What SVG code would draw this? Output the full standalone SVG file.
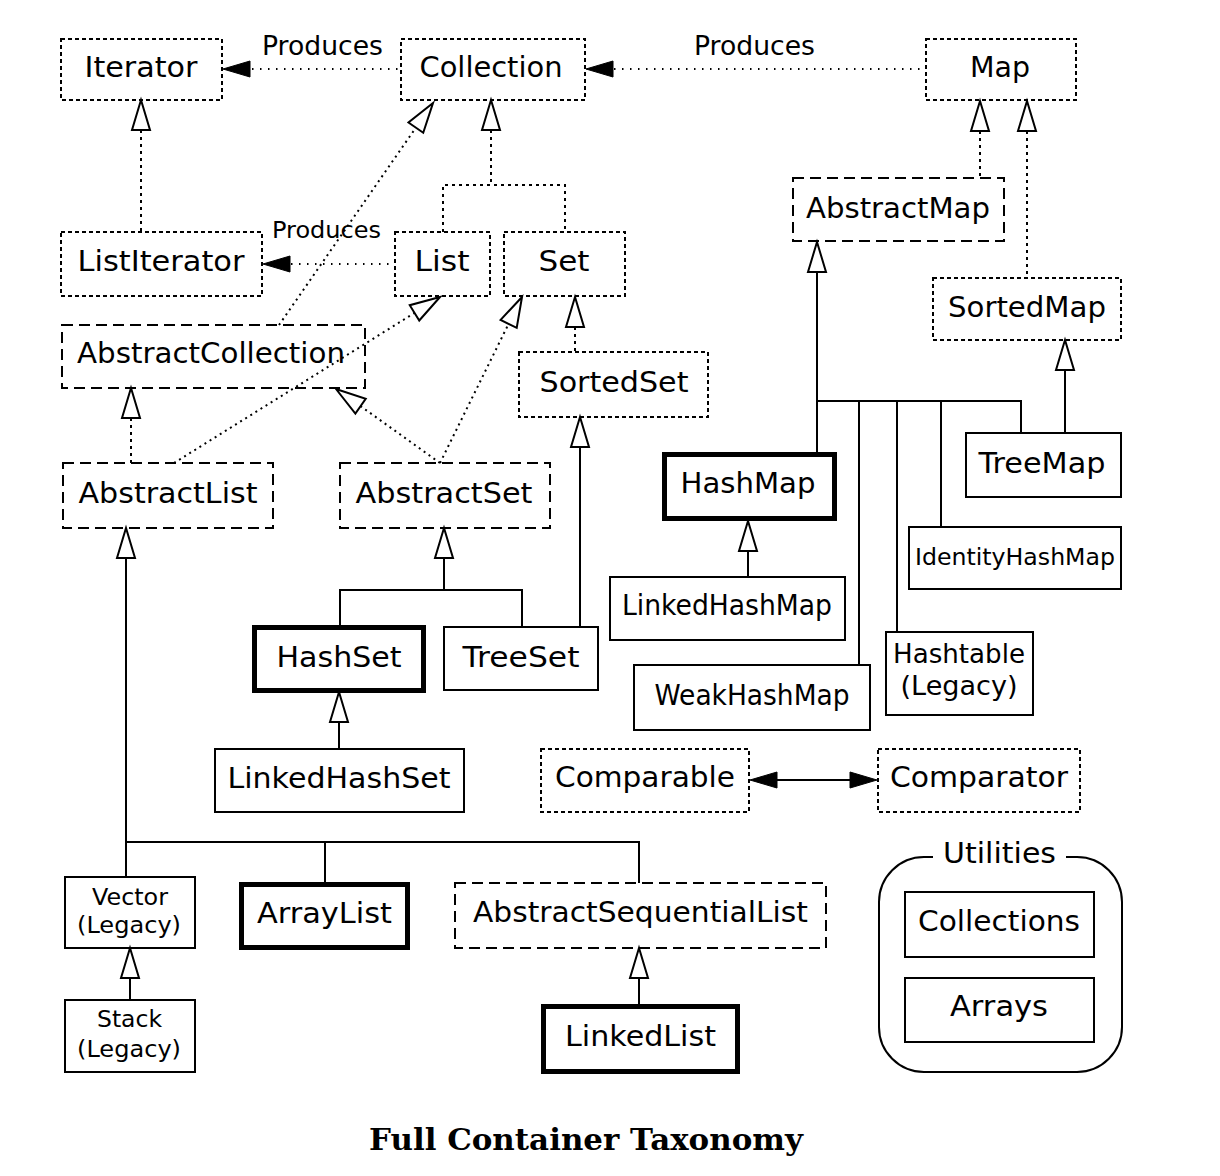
<svg xmlns="http://www.w3.org/2000/svg" xmlns:xlink="http://www.w3.org/1999/xlink" width="1220" height="1176" viewBox="0 0 1220 1176">
<style>
.dot{fill:none;stroke:#000;stroke-width:2;stroke-dasharray:4 3}
.dash{fill:none;stroke:#000;stroke-width:2;stroke-dasharray:11 6}
.sol{fill:none;stroke:#000;stroke-width:2}
.thk{fill:none;stroke:#000;stroke-width:5}
.t{font-family:"DejaVu Sans","Liberation Sans",sans-serif;font-size:29px;text-anchor:middle;fill:#000}
.s{font-size:26px}
.x{font-size:23.5px}
.ttl{font-family:"DejaVu Serif","Liberation Serif",serif;font-size:30px;font-weight:bold;text-anchor:middle;fill:#000}
.ln{fill:none;stroke:#000;stroke-width:2}
.dl{fill:none;stroke:#000;stroke-width:2;stroke-dasharray:3 4}
.dg{fill:none;stroke:#000;stroke-width:2;stroke-dasharray:2 4}
.pl{fill:none;stroke:#000;stroke-width:2;stroke-dasharray:1.5 6.5}
.tri{fill:#fff;stroke:#000;stroke-width:2}
.fa{fill:#000;stroke:#000;stroke-width:1}
</style>
<defs>
<polygon id="tri" class="tri" points="0,0 -9,30 9,30"/>
<polygon id="fa" class="fa" points="0,0 27,-8 27,8"/>
</defs>
<rect width="1220" height="1176" fill="#fff"/>

<g id="connectors">
<!-- produces -->
<line class="pl" x1="252" y1="69" x2="400" y2="69"/>
<use xlink:href="#fa" transform="translate(223,69)"/>
<text class="t s" x="322.5" y="55" textLength="121" lengthAdjust="spacingAndGlyphs">Produces</text>
<line class="pl" x1="614" y1="69" x2="925" y2="69"/>
<use xlink:href="#fa" transform="translate(586,69)"/>
<text class="t s" x="754.5" y="55" textLength="121" lengthAdjust="spacingAndGlyphs">Produces</text>
<line class="pl" x1="291" y1="264" x2="394" y2="264"/>
<use xlink:href="#fa" transform="translate(263,264)"/>
<text class="t x" x="326.5" y="238" textLength="109" lengthAdjust="spacingAndGlyphs">Produces</text>
<!-- comparable / comparator -->
<line class="ln" x1="776" y1="780" x2="850" y2="780"/>
<use xlink:href="#fa" transform="translate(750,780)"/>
<use xlink:href="#fa" transform="translate(877,780) scale(-1,1)"/>
<!-- interface inheritance (dotted) -->
<line class="dl" x1="141" y1="130" x2="141" y2="232"/>
<use xlink:href="#tri" transform="translate(141,100)"/>
<path class="dl" d="M491,130 V185 M443,232 V185 H565 V232"/>
<use xlink:href="#tri" transform="translate(491,100)"/>
<line class="dg" x1="279" y1="325" x2="417" y2="126"/>
<use xlink:href="#tri" transform="translate(433,103) rotate(34.87)"/>
<line class="dg" x1="174" y1="463" x2="416" y2="312"/>
<use xlink:href="#tri" transform="translate(440,297) rotate(58.18)"/>
<line class="dg" x1="440" y1="463" x2="509.5" y2="322"/>
<use xlink:href="#tri" transform="translate(522,297) rotate(26.42)"/>
<line class="dg" x1="440" y1="463" x2="359" y2="405"/>
<use xlink:href="#tri" transform="translate(336,389) rotate(-54.93)"/>
<line class="dl" x1="131" y1="418" x2="131" y2="463"/>
<use xlink:href="#tri" transform="translate(131,388)"/>
<line class="dl" x1="575" y1="327" x2="575" y2="352"/>
<use xlink:href="#tri" transform="translate(575,297)"/>
<line class="dl" x1="980" y1="131" x2="980" y2="178"/>
<use xlink:href="#tri" transform="translate(980,101)"/>
<line class="dl" x1="1027" y1="131" x2="1027" y2="278"/>
<use xlink:href="#tri" transform="translate(1027,101)"/>
<!-- class inheritance (solid) -->
<line class="ln" x1="817" y1="272" x2="817" y2="454"/>
<path class="ln" d="M817,401 H1021 V433 M859,401 V665 M897,401 V632 M941,401 V527"/>
<use xlink:href="#tri" transform="translate(817,242)"/>
<line class="ln" x1="1065" y1="370" x2="1065" y2="433"/>
<use xlink:href="#tri" transform="translate(1065,340)"/>
<line class="ln" x1="748" y1="551" x2="748" y2="577"/>
<use xlink:href="#tri" transform="translate(748,521)"/>
<path class="ln" d="M444,558 V590 M340,627 V590 H522 V627"/>
<use xlink:href="#tri" transform="translate(444,528)"/>
<line class="ln" x1="580" y1="447" x2="580" y2="627"/>
<use xlink:href="#tri" transform="translate(580,417)"/>
<line class="ln" x1="339" y1="722" x2="339" y2="749"/>
<use xlink:href="#tri" transform="translate(339,692)"/>
<path class="ln" d="M126,558 V877 M126,842 H639 V883 M325,842 V882"/>
<use xlink:href="#tri" transform="translate(126,528)"/>
<line class="ln" x1="130" y1="978" x2="130" y2="1000"/>
<use xlink:href="#tri" transform="translate(130,948)"/>
<line class="ln" x1="639" y1="978" x2="639" y2="1004"/>
<use xlink:href="#tri" transform="translate(639,948)"/>
</g>

<g id="iterator"><rect class="dot" x="61" y="39" width="161" height="61"/><text class="t" x="141" y="77" textLength="113" lengthAdjust="spacingAndGlyphs">Iterator</text></g>
<g id="collection"><rect class="dot" x="401" y="39" width="184" height="61"/><text class="t" x="491" y="77" textLength="143" lengthAdjust="spacingAndGlyphs">Collection</text></g>
<g id="map"><rect class="dot" x="926" y="39" width="150" height="61"/><text class="t" x="1000" y="77" textLength="60" lengthAdjust="spacingAndGlyphs">Map</text></g>
<g id="listiterator"><rect class="dot" x="61" y="232" width="201" height="64"/><text class="t" x="161" y="271" textLength="167" lengthAdjust="spacingAndGlyphs">ListIterator</text></g>
<g id="list"><rect class="dot" x="395" y="232" width="95" height="64"/><text class="t" x="442" y="271" textLength="55" lengthAdjust="spacingAndGlyphs">List</text></g>
<g id="set"><rect class="dot" x="504" y="232" width="121" height="64"/><text class="t" x="564" y="271" textLength="51" lengthAdjust="spacingAndGlyphs">Set</text></g>
<g id="abstractcollection"><rect class="dash" x="62" y="325" width="303" height="63"/><text class="t" x="211" y="363" textLength="268" lengthAdjust="spacingAndGlyphs">AbstractCollection</text></g>
<g id="sortedset"><rect class="dot" x="519" y="352" width="189" height="65"/><text class="t" x="614" y="392" textLength="149" lengthAdjust="spacingAndGlyphs">SortedSet</text></g>
<g id="abstractmap"><rect class="dash" x="793" y="178" width="211" height="63"/><text class="t" x="898" y="218" textLength="184" lengthAdjust="spacingAndGlyphs">AbstractMap</text></g>
<g id="sortedmap"><rect class="dot" x="933" y="278" width="188" height="62"/><text class="t" x="1027" y="317" textLength="158" lengthAdjust="spacingAndGlyphs">SortedMap</text></g>
<g id="abstractlist"><rect class="dash" x="63" y="463" width="210" height="65"/><text class="t" x="168" y="503" textLength="179" lengthAdjust="spacingAndGlyphs">AbstractList</text></g>
<g id="abstractset"><rect class="dash" x="340" y="463" width="210" height="65"/><text class="t" x="444" y="503" textLength="177" lengthAdjust="spacingAndGlyphs">AbstractSet</text></g>
<g id="treemap"><rect class="sol" x="966" y="433" width="155" height="64"/><text class="t" x="1042" y="473" textLength="127" lengthAdjust="spacingAndGlyphs">TreeMap</text></g>
<g id="hashmap"><rect class="thk" x="664.5" y="454.5" width="170" height="64"/><text class="t" x="748" y="493" textLength="135" lengthAdjust="spacingAndGlyphs">HashMap</text></g>
<g id="linkedhashmap"><rect class="sol" x="610" y="577" width="235" height="63"/><text class="t" x="727" y="615" textLength="210" lengthAdjust="spacingAndGlyphs">LinkedHashMap</text></g>
<g id="identityhashmap"><rect class="sol" x="909" y="527" width="212" height="62"/><text class="t x" x="1015" y="565" textLength="200" lengthAdjust="spacingAndGlyphs">IdentityHashMap</text></g>
<g id="hashtable"><rect class="sol" x="886" y="632" width="147" height="83"/><text class="t s" x="959" y="663" textLength="132" lengthAdjust="spacingAndGlyphs">Hashtable</text><text class="t s" x="959" y="695" textLength="117" lengthAdjust="spacingAndGlyphs">(Legacy)</text></g>
<g id="weakhashmap"><rect class="sol" x="634" y="665" width="236" height="65"/><text class="t" x="752" y="705" textLength="195" lengthAdjust="spacingAndGlyphs">WeakHashMap</text></g>
<g id="hashset"><rect class="thk" x="254.5" y="627.5" width="169" height="63"/><text class="t" x="339" y="667" textLength="125" lengthAdjust="spacingAndGlyphs">HashSet</text></g>
<g id="treeset"><rect class="sol" x="444" y="627" width="154" height="63"/><text class="t" x="521" y="667" textLength="117" lengthAdjust="spacingAndGlyphs">TreeSet</text></g>
<g id="linkedhashset"><rect class="sol" x="215" y="749" width="249" height="63"/><text class="t" x="339" y="788" textLength="223" lengthAdjust="spacingAndGlyphs">LinkedHashSet</text></g>
<g id="comparable"><rect class="dot" x="541" y="749" width="208" height="63"/><text class="t" x="645" y="787" textLength="180" lengthAdjust="spacingAndGlyphs">Comparable</text></g>
<g id="comparator"><rect class="dot" x="878" y="749" width="202" height="63"/><text class="t" x="979" y="787" textLength="178" lengthAdjust="spacingAndGlyphs">Comparator</text></g>
<g id="vector"><rect class="sol" x="65" y="877" width="130" height="71"/><text class="t x" x="130" y="905" textLength="76" lengthAdjust="spacingAndGlyphs">Vector</text><text class="t x" x="129" y="933" textLength="104" lengthAdjust="spacingAndGlyphs">(Legacy)</text></g>
<g id="stack"><rect class="sol" x="65" y="1000" width="130" height="72"/><text class="t x" x="129.5" y="1027" textLength="65" lengthAdjust="spacingAndGlyphs">Stack</text><text class="t x" x="129" y="1057" textLength="104" lengthAdjust="spacingAndGlyphs">(Legacy)</text></g>
<g id="arraylist"><rect class="thk" x="241.5" y="884.5" width="166" height="63"/><text class="t" x="324.5" y="923" textLength="135" lengthAdjust="spacingAndGlyphs">ArrayList</text></g>
<g id="abstractsequentiallist"><rect class="dash" x="455" y="883" width="371" height="65"/><text class="t" x="640.5" y="922" textLength="335" lengthAdjust="spacingAndGlyphs">AbstractSequentialList</text></g>
<g id="linkedlist"><rect class="thk" x="543.5" y="1006.5" width="194" height="65"/><text class="t" x="640.5" y="1046" textLength="151" lengthAdjust="spacingAndGlyphs">LinkedList</text></g>
<g id="utilities">
<path class="sol" d="M1066,857 H1077 A45,45 0 0 1 1122,902 V1027 A45,45 0 0 1 1077,1072 H924 A45,45 0 0 1 879,1027 V902 A45,45 0 0 1 924,857 H933"/>
<text class="t" x="999.5" y="863" textLength="113" lengthAdjust="spacingAndGlyphs">Utilities</text>
</g>
<g id="collections"><rect class="sol" x="905" y="892" width="189" height="65"/><text class="t" x="999" y="931" textLength="162" lengthAdjust="spacingAndGlyphs">Collections</text></g>
<g id="arrays"><rect class="sol" x="905" y="978" width="189" height="64"/><text class="t" x="999" y="1016" textLength="98" lengthAdjust="spacingAndGlyphs">Arrays</text></g>
<text class="ttl" x="586" y="1150" textLength="434" lengthAdjust="spacingAndGlyphs">Full Container Taxonomy</text>
</svg>
